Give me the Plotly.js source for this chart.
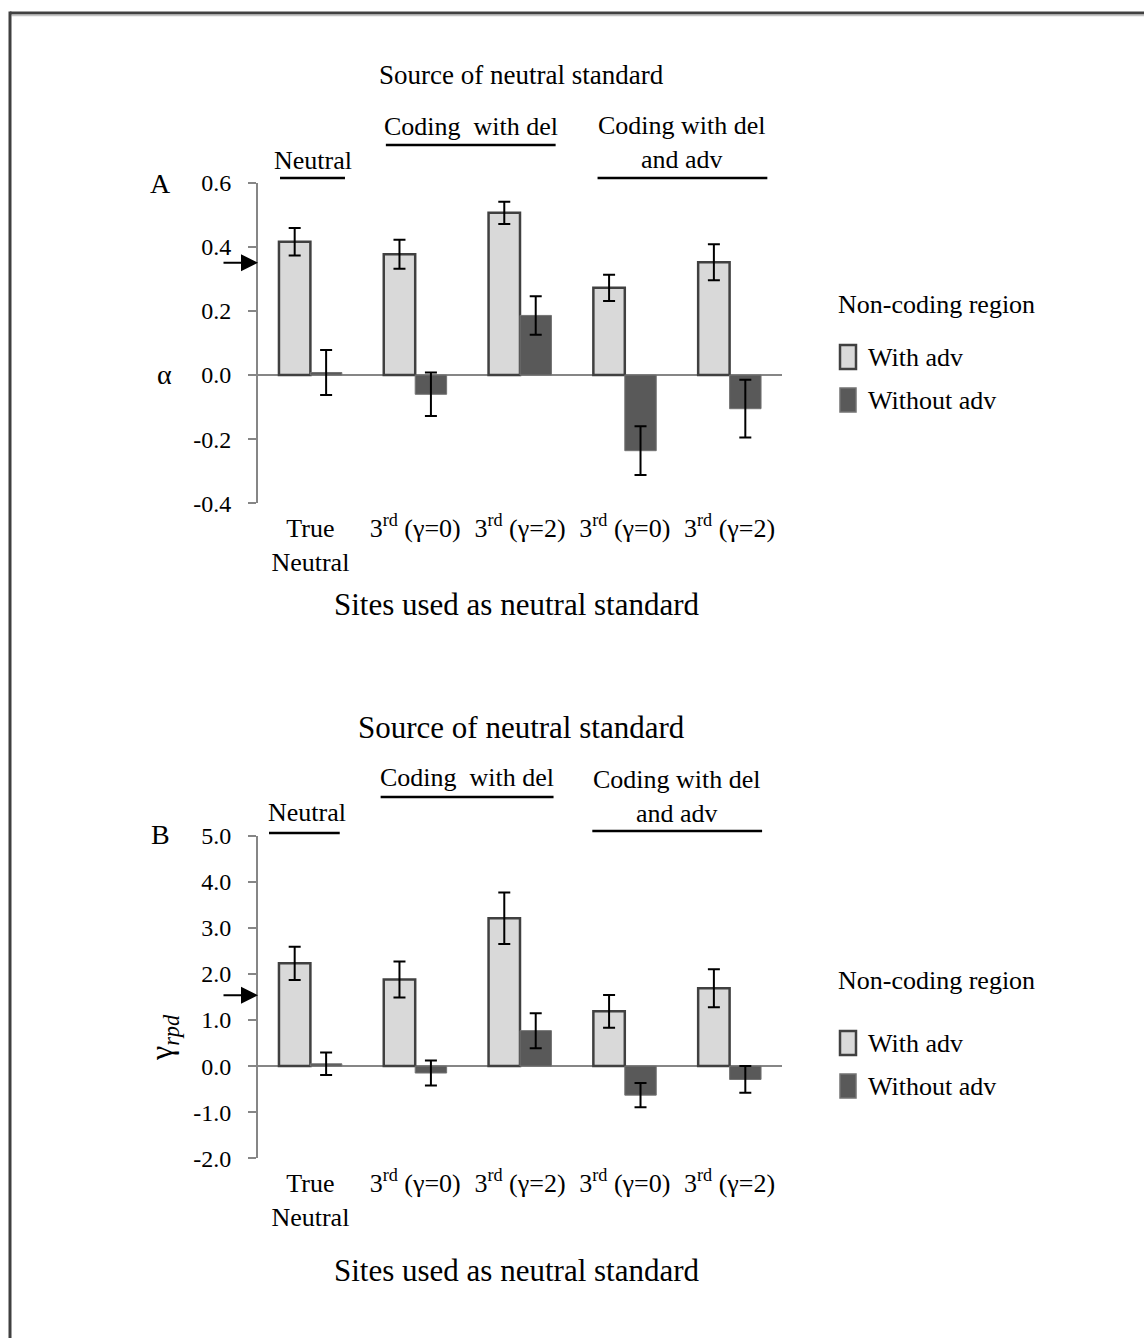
<!DOCTYPE html>
<html>
<head>
<meta charset="utf-8">
<script src="https://cdn.plot.ly/plotly-3.0.1.min.js"></script>
<style>
  html, body { margin: 0; padding: 0; background: #ffffff; }
  #chart { width: 1144px; height: 1338px; }
</style>
</head>
<body>
<div id="chart"></div>
<script>
// Sites used as the neutral standard (one bar pair per site class)
const siteIndex = [0, 1, 2, 3, 4];
const siteLabels = ['True<br>Neutral', '3<sup>rd</sup> (γ=0)', '3<sup>rd</sup> (γ=2)', '3<sup>rd</sup> (γ=0)', '3<sup>rd</sup> (γ=2)'];
const seriesNames = ['With adv', 'Without adv'];
const groupNames = ['Neutral', 'Coding\u00A0 with del', 'Coding with del<br>and adv'];

// Panel A: alpha estimates
const alphaWithAdv = [0.416, 0.377, 0.506, 0.272, 0.352];
const alphaWithAdvErr = [0.043, 0.045, 0.035, 0.041, 0.056];
const alphaWithoutAdv = [0.008, -0.060, 0.186, -0.236, -0.105];
const alphaWithoutAdvErr = [0.070, 0.068, 0.060, 0.076, 0.090];
const alphaTicks = [-0.4, -0.2, 0.0, 0.2, 0.4, 0.6];
const alphaTickText = ['-0.4', '-0.2', '0.0', '0.2', '0.4', '0.6'];
const trueAlpha = 0.35;

// Panel B: gamma_rpd estimates
const gammaWithAdv = [2.23, 1.88, 3.21, 1.19, 1.69];
const gammaWithAdvErr = [0.36, 0.39, 0.56, 0.355, 0.415];
const gammaWithoutAdv = [0.05, -0.15, 0.77, -0.63, -0.29];
const gammaWithoutAdvErr = [0.245, 0.27, 0.38, 0.265, 0.29];
const gammaTicks = [-2, -1, 0, 1, 2, 3, 4, 5];
const gammaTickText = ['-2.0', '-1.0', '0.0', '1.0', '2.0', '3.0', '4.0', '5.0'];
const trueGamma = 1.54;

const W = 1144, H = 1338;
const px = x => x / W;
const py = y => 1 - y / H;
const serif = '"Liberation Serif", "Times New Roman", serif';
const axisGrey = '#868686';
const lightFill = '#d9d9d9', lightEdge = '#404040';
const darkFill = '#595959', darkEdge = '#737373';

function barTrace(name, ys, errs, fill, edge, edgeW, xa, ya) {
  return {
    type: 'bar', name: name, x: siteIndex, y: ys, xaxis: xa, yaxis: ya,
    marker: { color: fill, line: { color: edge, width: edgeW } },
    error_y: { type: 'data', array: errs, visible: true, color: '#000', thickness: 2, width: 6 },
    showlegend: false, hoverinfo: 'skip'
  };
}

const data = [
  barTrace(seriesNames[0], alphaWithAdv, alphaWithAdvErr, lightFill, lightEdge, 2.5, 'x', 'y'),
  barTrace(seriesNames[1], alphaWithoutAdv, alphaWithoutAdvErr, darkFill, darkEdge, 1, 'x', 'y'),
  barTrace(seriesNames[0], gammaWithAdv, gammaWithAdvErr, lightFill, lightEdge, 2.5, 'x2', 'y2'),
  barTrace(seriesNames[1], gammaWithoutAdv, gammaWithoutAdvErr, darkFill, darkEdge, 1, 'x2', 'y2')
];

function xAxis(anchor) {
  return {
    domain: [px(258), px(782)], anchor: anchor, range: [-0.5, 4.5],
    tickmode: 'array', tickvals: siteIndex, ticktext: siteLabels,
    ticks: '', showline: false, zeroline: false, showgrid: false,
    ticklabelstandoff: 7,
    tickfont: { family: serif, size: 26, color: '#000' }, fixedrange: true
  };
}
function yAxis(anchor, top, bottom, ticks, text, range) {
  return {
    domain: [py(bottom), py(top)], anchor: anchor, range: range,
    tickmode: 'array', tickvals: ticks, ticktext: text,
    ticks: 'outside', ticklen: 8, tickwidth: 2, tickcolor: axisGrey,
    showline: true, linecolor: axisGrey, linewidth: 2,
    zeroline: true, zerolinecolor: axisGrey, zerolinewidth: 2,
    showgrid: false, ticklabelstandoff: 12,
    tickfont: { family: serif, size: 24, color: '#000' }, fixedrange: true
  };
}

const annotations = [];
const shapes = [];
function text(t, x, y, size, opts) {
  annotations.push(Object.assign({
    text: t, xref: 'paper', yref: 'paper', x: px(x), y: py(y),
    xanchor: 'center', yanchor: 'middle', showarrow: false,
    font: { family: serif, size: size, color: '#000' }
  }, opts || {}));
}
function hline(xref, x0, x1, yPix, w, color) {
  shapes.push({ type: 'line', xref: xref, yref: 'paper', x0: x0, x1: x1, y0: py(yPix), y1: py(yPix),
    line: { color: color || '#000', width: w } });
}

// Panel-specific decorations: titles, group brackets, legend, arrow
function panel(cfg) {
  text('Source of neutral standard', cfg.titleX, cfg.title, cfg.titleSize);
  // group labels and their underlines (x in category units)
  cfg.groups.forEach((g, i) => {
    annotations.push({
      text: groupNames[i], xref: cfg.xa, yref: 'paper', x: g.cx, y: py(g.ty),
      xanchor: 'center', yanchor: 'middle', showarrow: false,
      font: { family: serif, size: 26, color: '#000' }
    });
    hline(cfg.xa, g.x0, g.x1, g.ly, 2.5);
  });
  text(cfg.letter, 160, cfg.letterY, 28);
  text('Sites used as neutral standard', 517, cfg.sites, 31);
  // legend
  text('Non-coding region', 836, cfg.leg[0], 26, { xanchor: 'left' });
  [[lightFill, lightEdge, 2.5], [darkFill, darkEdge, 1.5]].forEach((st, i) => {
    const yc = cfg.leg[i + 1];
    shapes.push({ type: 'rect', xref: 'paper', yref: 'paper',
      x0: px(840), x1: px(856), y0: py(yc + 12), y1: py(yc - 12),
      fillcolor: st[0], line: { color: st[1], width: st[2] } });
    text(seriesNames[i], 866, yc, 26, { xanchor: 'left' });
  });
  // true-value arrow on the y axis
  annotations.push({
    text: '', xref: cfg.xa + ' domain', yref: cfg.ya, x: 0, y: cfg.truth,
    ax: -36, ay: 0, showarrow: true, arrowhead: 2, arrowsize: 1.7, arrowwidth: 2,
    arrowcolor: '#000', standoff: 0
  });
}

panel({
  xa: 'x', ya: 'y', letter: 'A', letterY: 183, title: 75, titleX: 521, titleSize: 27, sites: 604,
  truth: trueAlpha, leg: [304, 357, 400],
  groups: [
    { cx: 0.02, ty: 160, x0: -0.29, x1: 0.33, ly: 178 },
    { cx: 1.53, ty: 127, x0: 0.72, x1: 2.34, ly: 145 },
    { cx: 3.55, ty: 142, x0: 2.74, x1: 4.36, ly: 178 }
  ]
});
panel({
  xa: 'x2', ya: 'y2', letter: 'B', letterY: 834, title: 727, titleX: 521, titleSize: 31, sites: 1270,
  truth: trueGamma, leg: [980, 1043, 1086],
  groups: [
    { cx: -0.03, ty: 812, x0: -0.395, x1: 0.28, ly: 833 },
    { cx: 1.49, ty: 777, x0: 0.67, x1: 2.32, ly: 797 },
    { cx: 3.5, ty: 796, x0: 2.69, x1: 4.31, ly: 831 }
  ]
});

text('α', 164, 374, 28);
text('γ<sub><i>rpd</i></sub>', 163, 1038, 32, { textangle: -90 });

// outer frame
shapes.push({ type: 'line', xref: 'paper', yref: 'paper', x0: px(10), x1: 1, y0: py(13), y1: py(13), line: { color: '#404040', width: 3 } });
shapes.push({ type: 'line', xref: 'paper', yref: 'paper', x0: px(11.5), x1: 1, y0: py(15.5), y1: py(15.5), line: { color: '#c4c4c4', width: 1.5 } });
shapes.push({ type: 'line', xref: 'paper', yref: 'paper', x0: px(10), x1: px(10), y0: py(11.5), y1: 0, line: { color: '#404040', width: 3 } });

const layout = {
  width: W, height: H, margin: { l: 0, r: 0, t: 0, b: 0 },
  paper_bgcolor: '#ffffff', plot_bgcolor: 'rgba(0,0,0,0)',
  barmode: 'group', bargap: 0.4, bargroupgap: 0,
  showlegend: false,
  font: { family: serif, color: '#000' },
  xaxis: xAxis('y'),
  yaxis: yAxis('x', 182.7, 503.3, alphaTicks, alphaTickText, [-0.4001, 0.6001]),
  xaxis2: xAxis('y2'),
  yaxis2: yAxis('x2', 835.7, 1158.3, gammaTicks, gammaTickText, [-2.001, 5.001]),
  annotations: annotations, shapes: shapes
};

Plotly.newPlot('chart', data, layout, { staticPlot: true, displayModeBar: false });
</script>
</body>
</html>
